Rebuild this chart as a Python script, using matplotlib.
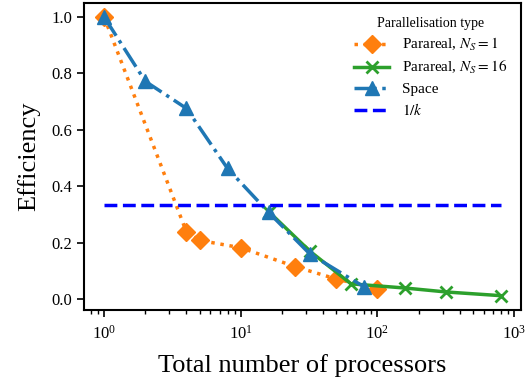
import numpy as np
import matplotlib
matplotlib.use('Agg')
import matplotlib.pyplot as plt

plt.rcParams['font.family'] = ['Liberation Serif', 'DejaVu Serif']
plt.rcParams['mathtext.fontset'] = 'stix'

# parareal, N_S = 1
p1_procs = [1, 4, 5, 10, 25, 50, 100]
p1_eff = [1.0, 0.238, 0.208, 0.182, 0.115, 0.071, 0.037]

# parareal, N_S = 16
p16_procs = [16, 32, 64, 160, 320, 800]
p16_eff = [0.31, 0.17, 0.054, 0.039, 0.025, 0.012]

# space parallel
space_procs = [1, 2, 4, 8, 16, 32, 80]
space_eff = [1.0, 0.772, 0.676, 0.463, 0.307, 0.16, 0.043]

k = 3
k_range = [1, 800]

fig, ax = plt.subplots(figsize=(5.27, 3.87), dpi=100)

ax.plot(p1_procs, p1_eff, ':', color='tab:orange', marker='D', markersize=9,
        linewidth=2.5, label=r'Parareal, $N_S = 1$')
ax.plot(p16_procs, p16_eff, '-', color='tab:green', marker='x', markersize=8,
        markeredgewidth=2, linewidth=2.5, label=r'Parareal, $N_S = 16$')
ax.plot(space_procs, space_eff, '-.', color='tab:blue', marker='^', markersize=10,
        linewidth=2.5, label='Space')
ax.plot(k_range, [1 / k] * 2, '--', color='blue', linewidth=2.5, label=r'$1/k$')

ax.set_xscale('log')
ax.set_xlabel('Total number of processors', fontsize=19, labelpad=8)
ax.set_ylabel('Efficiency', fontsize=19, labelpad=8)
ax.tick_params(axis='both', labelsize=12, width=1.2, length=5)
ax.tick_params(axis='x', pad=6)
ax.tick_params(which='minor', width=1, length=3)
for s in ax.spines.values():
    s.set_linewidth(1.5)

leg = ax.legend(title='Parallelisation type', fontsize=11, title_fontsize=10,
                frameon=False, loc='upper right', handlelength=2.3,
                handletextpad=0.8, labelspacing=0.4)

fig.subplots_adjust(left=0.16, right=0.988, top=0.992, bottom=0.2)
fig.savefig('out.png', dpi=100)
